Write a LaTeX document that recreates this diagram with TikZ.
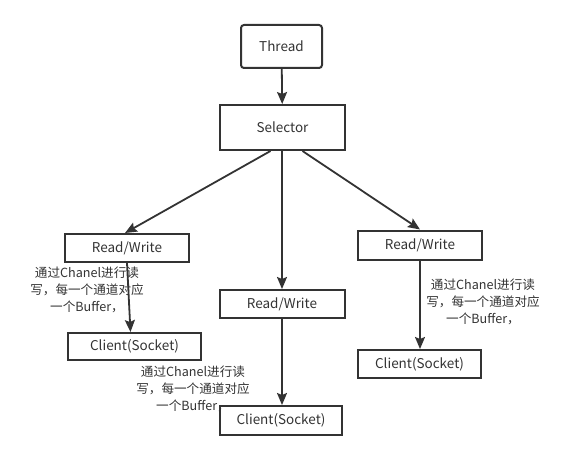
\documentclass[tikz,border=0pt]{standalone}
\usepackage{fontspec}
\setmainfont{Noto Sans CJK SC}
\usetikzlibrary{arrows.meta}
\definecolor{ink}{HTML}{333333}
\begin{document}
\begin{tikzpicture}[x=1pt,y=-1pt,
  box/.style={draw=ink,line width=2pt,text=ink,font=\fontsize{13.5}{15}\selectfont,inner sep=0pt},
  note/.style={text=ink,align=center,font=\fontsize{12.6}{17}\selectfont,inner sep=0pt},
  link/.style={draw=ink,line width=1.8pt,-{Stealth[length=12pt,width=10pt,inset=2pt]}}]
\useasboundingbox (0,0) rectangle (570,460);
\node[box,rounded corners=3pt,minimum width=81pt,minimum height=43pt] (thread) at (281.5,46.5) {Thread};
\node[box,minimum width=125pt,minimum height=45pt] (sel) at (282.5,127.5) {Selector};
\node[box,minimum width=124pt,minimum height=28pt] (lrw) at (127,248) {Read/Write};
\node[box,minimum width=125pt,minimum height=28pt] (mrw) at (282,304) {Read/Write};
\node[box,minimum width=124pt,minimum height=29pt] (rrw) at (420,245) {Read/Write};
\node[box,minimum width=133pt,minimum height=27pt] (lcl) at (134.5,346.5) {Client(Socket)};
\node[box,minimum width=122pt,minimum height=29pt] (mcl) at (281,420.5) {Client(Socket)};
\node[box,minimum width=123pt,minimum height=28pt] (rcl) at (419.5,364) {Client(Socket)};
\draw[link] (thread) -- (sel);
\draw[link] ([xshift=-12pt]sel.south) -- ([xshift=-2pt]lrw.north);
\draw[link] (sel.south -| mrw.north) -- (mrw.north);
\draw[link] ([xshift=20pt]sel.south) -- (rrw.north);
\draw[link] (lrw.south) -- ([xshift=-4pt]lcl.north);
\draw[link] (mrw) -- (mrw.south |- mcl.north);
\draw[link] (rrw) -- (rrw.south |- rcl.north);
\node[note] (lnote) at (87,290) {通过Chanel进行读\\写，每一个通道对应\\一个Buffer，};
\node[note] (mnote) at (193,389) {通过Chanel进行读\\写，每一个通道对应\\一个Buffer，};
\node[note] (rnote) at (483,302) {通过Chanel进行读\\写，每一个通道对应\\一个Buffer，};
\end{tikzpicture}
\end{document}
